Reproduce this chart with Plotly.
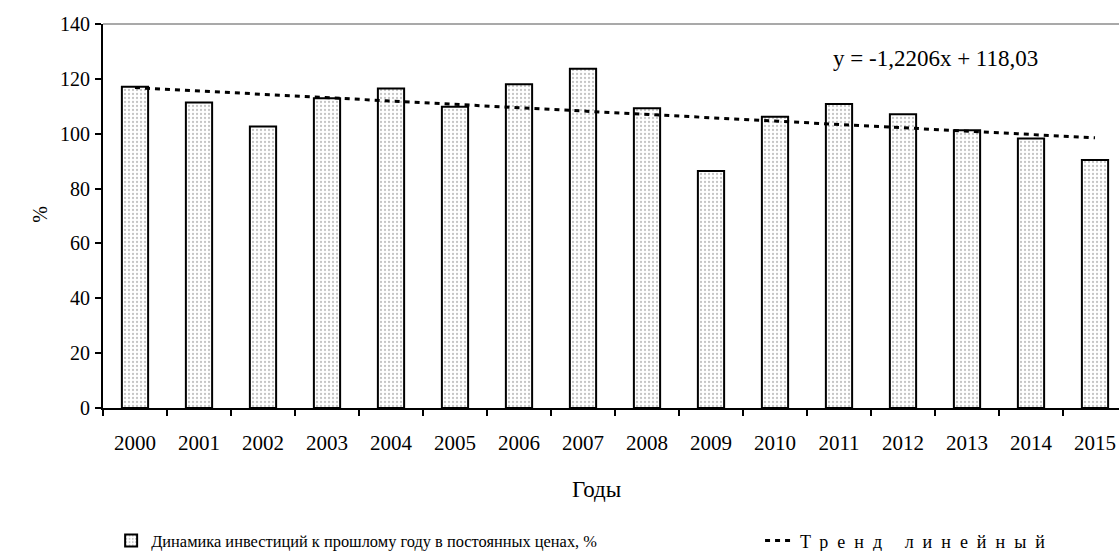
import plotly.graph_objects as go

years = ["2000", "2001", "2002", "2003", "2004", "2005", "2006", "2007",
         "2008", "2009", "2010", "2011", "2012", "2013", "2014", "2015"]
invest_dynamics = [117.1, 111.4, 102.6, 112.9, 116.5, 109.8, 118.0, 123.7,
                   109.3, 86.4, 106.2, 110.8, 107.1, 101.3, 98.3, 90.4]
trend_years = ["2000", "2015"]
trend_values = [116.81, 98.50]
trend_label = "y = -1,2206x + 118,03"
bar_name = "Динамика инвестиций к прошлому году в постоянных ценах, %"
trend_name = "Тренд линейный"

FONT = "Liberation Serif, DejaVu Serif Condensed, DejaVu Serif, serif"

fig = go.Figure()
fig.add_trace(go.Bar(
    x=years, y=invest_dynamics,
    name=bar_name,
    legend="legend",
    marker=dict(color="white",
                line=dict(color="black", width=2),
                pattern=dict(shape=".", fgcolor="#8a8a8a", bgcolor="white",
                             size=4, solidity=0.25)),
))
fig.add_trace(go.Scatter(
    x=trend_years, y=trend_values, mode="lines",
    name="<span style='letter-spacing:9px'>" + trend_name + "</span>",
    legend="legend2",
    line=dict(color="black", width=3, dash="5px,5px"),
))

leg_common = dict(orientation="h", xanchor="left", yanchor="middle",
                  bgcolor="rgba(0,0,0,0)")

fig.update_layout(
    width=1119, height=560,
    margin=dict(l=103, r=0, t=24, b=152),
    paper_bgcolor="white", plot_bgcolor="white",
    bargap=0.59,
    font=dict(family=FONT, color="black", size=20),
    showlegend=True,
    legend=dict(x=0.008, y=-0.346, font=dict(size=16.4, family=FONT), **leg_common),
    legend2=dict(x=0.6467, y=-0.346, font=dict(size=18, family=FONT), **leg_common),
    xaxis=dict(type="category", range=[-0.5, 15.375], showline=True, linecolor="black",
               linewidth=2, ticks="outside", ticklen=6, tickwidth=2, tickcolor="black",
               tickson="boundaries", showgrid=False, zeroline=False,
               tickfont=dict(size=21, family=FONT), ticklabelstandoff=15),
    yaxis=dict(range=[0, 140], dtick=20, showline=True, linecolor="black", linewidth=2,
               ticks="outside", ticklen=6, tickwidth=2, tickcolor="black",
               showgrid=False, zeroline=False, tickfont=dict(size=20, family=FONT),
               ticklabelstandoff=1),
    shapes=[dict(type="line", xref="paper", yref="paper", x0=0, x1=1, y0=1, y1=1,
                 line=dict(color="#8c8c8c", width=1.5))],
    annotations=[
        dict(text=trend_label, xref="paper", yref="paper", x=0.7165, y=0.911,
             xanchor="left", yanchor="middle", showarrow=False,
             font=dict(size=23, family=FONT)),
        dict(text="Годы", xref="paper", yref="paper", x=0.4857, y=-0.2135,
             xanchor="center", yanchor="middle", showarrow=False,
             font=dict(size=23, family=FONT)),
        dict(text="%", xref="paper", yref="paper", x=-0.062, y=0.503,
             xanchor="center", yanchor="middle", showarrow=False, textangle=-90,
             font=dict(size=20, family=FONT)),
    ],
)

fig.write_html("out.html",
               config={"displayModeBar": False},
               post_script="document.body.style.margin='0';"
                           "document.body.style.overflow='hidden';")
